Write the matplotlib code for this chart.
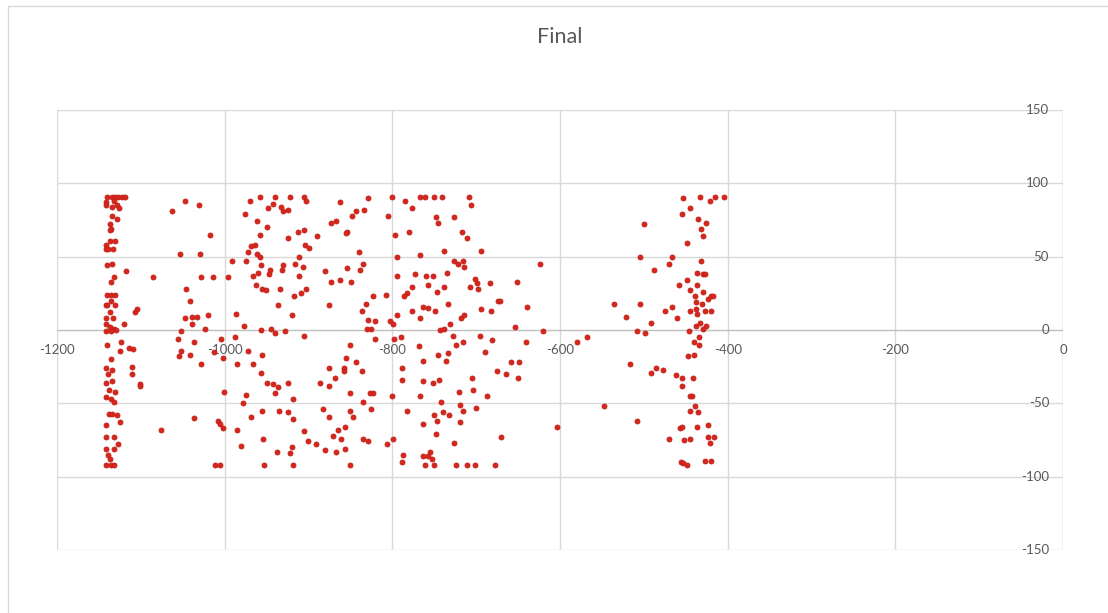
import matplotlib
matplotlib.use("Agg")
import matplotlib.pyplot as plt
from matplotlib.patches import Rectangle
from matplotlib.transforms import offset_copy

# Scatter data, grouped by band along the x axis
west_band = [
    (-1140, 91), (-1134, 91), (-1131, 91), (-1127, 91), (-1122, 91), (-1119, 91),
    (-1132, 88), (-1141, 87), (-1141, 85), (-1134, 84), (-1128, 85), (-1126, 83),
    (-1134, 78), (-1128, 76), (-1137, 72), (-1135, 69), (-1137, 68),
    (-1137, 61), (-1131, 61), (-1141, 58), (-1141, 55), (-1139, 55), (-1133, 55),
    (-1140, 44), (-1134, 45), (-1132, 36), (-1136, 33),
    (-1135, 24), (-1131, 24), (-1140, 24), (-1135, 20), (-1142, 17), (-1140, 17), (-1131, 17),
    (-1137, 12), (-1142, 8), (-1133, 8), (-1141, 4), (-1137, 2), (-1132, 1), (-1130, 0),
    (-1142, -1), (-1136, -1), (-1120, 4),
    (-1140, -10), (-1124, -8), (-1125, -14), (-1114, -12), (-1109, -13),
    (-1136, -20), (-1142, -26), (-1134, -27), (-1139, -30), (-1110, -25), (-1110, -30),
    (-1142, -36), (-1134, -35), (-1101, -37), (-1101, -38),
    (-1138, -41), (-1131, -42), (-1142, -46), (-1136, -47), (-1132, -49),
    (-1138, -57), (-1134, -57), (-1129, -58), (-1125, -63), (-1142, -65),
    (-1142, -73), (-1132, -73), (-1127, -78), (-1142, -81), (-1132, -81),
    (-1139, -85), (-1137, -88), (-1142, -92), (-1135, -92), (-1132, -92),
    (-1118, 40), (-1104, 14), (-1107, 12), (-1085, 36),
    (-1047, 88), (-1063, 81), (-1031, 85), (-1017, 65), (-1053, 52), (-1030, 52),
    (-1028, 36), (-1014, 36), (-1046, 28), (-1041, 20), (-1047, 8), (-1039, 9),
    (-1033, 9), (-1020, 10), (-1039, 4), (-1052, -1), (-1023, 1),
    (-1056, -6), (-1037, -8), (-1052, -14), (-1055, -18), (-1041, -17), (-1028, -23),
    (-1004, -6), (-988, -5), (-1013, -15), (-1002, -19), (-1037, -60), (-1076, -68),
    (-1008, -62), (-1006, -64), (-1002, -67), (-1012, -92), (-1006, -92), (-1001, -42),
]

central_band = [
    (-958, 91), (-970, 88), (-976, 79), (-962, 74), (-958, 65), (-969, 57), (-964, 58),
    (-972, 53), (-962, 52), (-958, 50), (-991, 47), (-974, 47), (-957, 44), (-966, 37),
    (-960, 39), (-963, 31), (-955, 28), (-996, 36), (-986, 11), (-977, 3), (-957, 0),
    (-940, 91), (-922, 91), (-905, 91), (-942, 86), (-948, 83), (-933, 84), (-931, 81),
    (-924, 82), (-903, 88), (-863, 87), (-829, 90), (-834, 82), (-843, 81), (-848, 78),
    (-805, 78), (-800, 91), (-873, 73), (-867, 74), (-950, 70), (-912, 67), (-905, 68),
    (-854, 67), (-855, 66), (-924, 63), (-890, 64), (-904, 58), (-899, 56), (-911, 50),
    (-840, 53), (-946, 41), (-947, 38), (-930, 44), (-932, 41), (-916, 45), (-907, 43),
    (-911, 37), (-880, 40), (-854, 42), (-839, 41), (-835, 45), (-873, 33), (-863, 34),
    (-849, 33), (-951, 27), (-934, 28), (-903, 28), (-909, 25), (-917, 23), (-936, 17),
    (-876, 17), (-823, 23), (-808, 24), (-832, 18), (-836, 13), (-920, 10), (-829, 7),
    (-821, 6), (-803, 6), (-799, 4), (-794, 10), (-777, 13), (-767, 8), (-945, 1),
    (-940, -2), (-928, -1), (-830, 1), (-825, 1),
    (-794, 50), (-767, 51), (-794, 37), (-773, 38), (-776, 29), (-782, 25), (-786, 23),
    (-797, 65), (-780, 67), (-777, 83), (-785, 88), (-767, 91), (-763, 16),
    (-972, -14), (-985, -23), (-966, -23), (-957, -29), (-955, -17), (-975, -44),
    (-978, -50), (-955, -55), (-969, -59), (-985, -68), (-981, -79), (-954, -74), (-953, -92),
    (-950, -36), (-942, -37), (-936, -39), (-940, -43), (-925, -36), (-918, -47), (-905, -4),
    (-876, -26), (-886, -36), (-876, -38), (-868, -33), (-858, -26), (-858, -28), (-855, -19),
    (-843, -22), (-850, -10), (-836, -28), (-850, -43), (-827, -43), (-823, -43), (-835, -49),
    (-821, -6), (-798, -6), (-790, -5), (-768, -11), (-788, -26), (-789, -34), (-800, -45),
    (-767, -45), (-764, -21), (-764, -35),
    (-935, -55), (-925, -56), (-918, -61), (-905, -69), (-938, -83), (-922, -84), (-920, -80),
    (-918, -92), (-901, -76), (-891, -78), (-883, -54), (-876, -59), (-880, -82), (-865, -68),
    (-871, -72), (-861, -74), (-856, -66), (-867, -83), (-856, -81), (-850, -55), (-847, -59),
    (-850, -92), (-835, -74), (-829, -76), (-825, -54), (-799, -74), (-806, -78), (-783, -55),
    (-763, -64), (-787, -85), (-789, -90), (-764, -86), (-761, -92),
    (-761, 91), (-750, 91), (-741, 91), (-709, 91), (-706, 85), (-748, 77), (-726, 77),
    (-745, 73), (-717, 67), (-711, 63), (-738, 54), (-694, 54), (-624, 45), (-726, 47),
    (-722, 45), (-716, 47), (-715, 43), (-760, 37), (-751, 37), (-735, 39), (-701, 35),
    (-699, 32), (-684, 32), (-651, 33), (-758, 31), (-747, 26), (-738, 29), (-707, 29),
    (-698, 28), (-734, 18), (-674, 20), (-671, 20), (-758, 15), (-749, 13), (-694, 14),
    (-682, 13), (-639, 16), (-731, 4), (-718, 8), (-714, 10), (-743, 0), (-738, 1),
    (-654, 2), (-620, -1),
    (-728, -4), (-696, -4), (-724, -10), (-716, -8), (-681, -7), (-641, -8), (-580, -8),
    (-745, -17), (-734, -16), (-736, -21), (-690, -15), (-658, -22), (-649, -22), (-675, -28),
    (-664, -30), (-650, -33), (-752, -36), (-744, -34), (-705, -33), (-720, -42), (-704, -41),
    (-687, -45), (-742, -49), (-719, -51), (-716, -55), (-700, -53), (-750, -58), (-740, -56),
    (-732, -58), (-747, -62), (-719, -63), (-604, -66), (-748, -71), (-670, -73), (-726, -77),
    (-755, -83), (-757, -86), (-753, -88), (-750, -92), (-724, -92), (-711, -92), (-701, -92),
    (-678, -92),
]

east_band = [
    (-453, 90), (-433, 91), (-421, 88), (-415, 91), (-404, 91), (-445, 83), (-454, 79),
    (-435, 76), (-426, 73), (-432, 69), (-429, 64), (-448, 59), (-500, 72), (-504, 50),
    (-466, 50), (-470, 45), (-488, 41), (-432, 47), (-436, 39), (-430, 38), (-427, 38),
    (-448, 34), (-458, 31), (-437, 31), (-445, 27), (-429, 26), (-439, 23), (-423, 21),
    (-420, 23), (-417, 23), (-438, 19), (-431, 18), (-535, 18), (-504, 18), (-466, 16),
    (-475, 13), (-521, 9), (-445, 13), (-438, 14), (-437, 11), (-427, 13), (-420, 13),
    (-460, 8), (-491, 5), (-433, 5), (-438, 3), (-426, 3), (-430, 1), (-508, -1),
    (-499, -2), (-446, -1),
    (-568, -5), (-434, -5), (-440, -8), (-434, -10), (-447, -18), (-440, -17), (-516, -23),
    (-491, -29), (-486, -26), (-477, -27), (-462, -31), (-455, -33), (-441, -33), (-455, -38),
    (-445, -45), (-442, -45), (-439, -52), (-445, -55), (-435, -56), (-548, -52), (-508, -62),
    (-457, -67), (-454, -66), (-436, -66), (-423, -65), (-470, -74), (-452, -75), (-445, -74),
    (-424, -73), (-416, -73), (-421, -77), (-456, -90), (-453, -91), (-449, -92), (-427, -89),
    (-420, -89),
]

x_ticks = [-1200, -1000, -800, -600, -400, -200, 0]
y_ticks = [-150, -100, -50, 0, 50, 100, 150]
title_text = "Final"

W, H = 1108, 613
fig = plt.figure(figsize=(W / 100, H / 100), dpi=100)
fig.patch.set_facecolor("white")

# chart frame
fig.add_artist(Rectangle((8 / W, -0.1), 1.2, (H - 6) / H + 0.1, transform=fig.transFigure,
                         fill=False, edgecolor="#D9D9D9", linewidth=1.0))

ax = fig.add_axes([57 / W, (H - 550) / H, 1006 / W, 440 / H])
ax.set_xlim(-1200, 0)
ax.set_ylim(-150, 150)
ax.axis("off")

grid_col = "#D9D9D9"
axis_col = "#BFBFBF"
text_col = "#595959"
font = "Lato"

# gridlines
for xv in x_ticks[:-1]:
    ax.axvline(xv, color=grid_col, linewidth=1.0, zorder=0)
for yv in y_ticks:
    if yv != 0:
        ax.axhline(yv, color=grid_col, linewidth=1.0, zorder=0)

# axes crossing at the origin
ax.axhline(0, color=axis_col, linewidth=1.0, zorder=1)
ax.axvline(0, color=axis_col, linewidth=1.0, zorder=1)

# tick labels along the axes
x_lab_tr = offset_copy(ax.transData, fig=fig, x=0, y=-20, units="dots")
for xv in x_ticks:
    ax.text(xv, 0, str(xv), transform=x_lab_tr, ha="center", va="center",
            fontsize=9.5, color=text_col, family=font, zorder=2)
y_lab_tr = offset_copy(ax.transData, fig=fig, x=-14, y=0, units="dots")
for yv in y_ticks:
    ax.text(0, yv, str(yv), transform=y_lab_tr, ha="right", va="center",
            fontsize=9.5, color=text_col, family=font, zorder=2)

for band in (west_band, central_band, east_band):
    xs = [p[0] for p in band]
    ys = [p[1] for p in band]
    ax.scatter(xs, ys, s=13, facecolor="#D9261C", edgecolor="#C0221B",
               linewidths=0.6, zorder=3, clip_on=False)

fig.text(560 / W, 1 - 37 / H, title_text, ha="center", va="center",
         fontsize=15.5, color=text_col, family=font)

fig.savefig("out.png", dpi=100, facecolor="white")
